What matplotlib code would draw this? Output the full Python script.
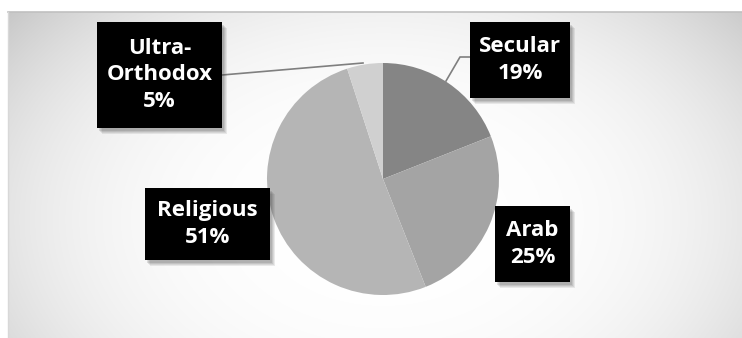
import numpy as np
import matplotlib
matplotlib.use("Agg")
import matplotlib.pyplot as plt
from matplotlib.patches import Rectangle

# Data
categories = ["Secular", "Arab", "Religious", "Ultra-\nOrthodox"]
values = [19, 25, 51, 5]
colors = ["#858585", "#a4a4a4", "#b5b5b5", "#d0d0d0"]

W, H = 742, 338
fig = plt.figure(figsize=(W / 100, H / 100), dpi=100)
fig.patch.set_facecolor("white")
ax = fig.add_axes([0, 0, 1, 1])
ax.axis("off")

# chart area with radial gradient background
x0, x1, ytop = 8, W, H - 12
yy, xx = np.mgrid[0:ytop:1.0, x0:x1:1.0]
cx, cy = 383, H - 220
d = np.sqrt(((xx - cx) / 380.0) ** 2 + ((yy - cy) / 260.0) ** 2)
val = 1.0 - 0.107 * np.clip(d, 0, 1.4) ** 3
img = np.dstack([val, val, val])
ax.imshow(img, extent=(x0, x1, 0, ytop), origin="lower", zorder=0, interpolation="bilinear")
ax.plot([x0, x1], [ytop, ytop], color="#c0c0c0", lw=1.2, zorder=1)
ax.plot([x0, x0], [0, ytop], color="#d8d8d8", lw=1, zorder=1)

# pie
pcx, pcy, r = 383, H - 179, 116
wedges, _ = ax.pie(values, colors=colors, startangle=90, counterclock=False,
                   center=(pcx, pcy), radius=r, frame=True,
                   wedgeprops=dict(linewidth=0))
for w in wedges:
    w.set_zorder(2)
ax.set_xlim(0, W)
ax.set_ylim(0, H)
ax.set_aspect("auto")
ax.axis("off")

# leader lines
ax.plot([222, 363], [H - 75, H - 63], color="#7f7f7f", lw=1.2, zorder=3)
ax.plot([446, 460, 470], [H - 81, H - 57, H - 57], color="#7f7f7f", lw=1.2, zorder=3)

# label boxes (x_left, y_top, x_right, y_bottom in pixel coords)
boxes = [(470, 22, 570, 98), (495, 206, 570, 282), (145, 188, 270, 260), (97, 22, 222, 128)]
labels = [f"{c}\n{v}%" for c, v in zip(categories, values)]
for (bx0, by0, bx1, by1), lab in zip(boxes, labels):
    w = bx1 - bx0
    h = by1 - by0
    for k, a in enumerate([0.10, 0.10, 0.12, 0.15]):
        off = 6 - k
        ax.add_patch(Rectangle((bx0 + off - 1, H - by1 - off), w, h, facecolor="#404040",
                               alpha=a, edgecolor="none", zorder=4))
    ax.add_patch(Rectangle((bx0, H - by1), w, h, facecolor="black", edgecolor="none", zorder=5))
    ax.text((bx0 + bx1) / 2, H - (by0 + by1) / 2, lab, color="white", fontsize=16,
            fontweight="bold", family="Open Sans", ha="center", va="center",
            linespacing=1.35, zorder=6)

fig.savefig("out.png", dpi=100)
